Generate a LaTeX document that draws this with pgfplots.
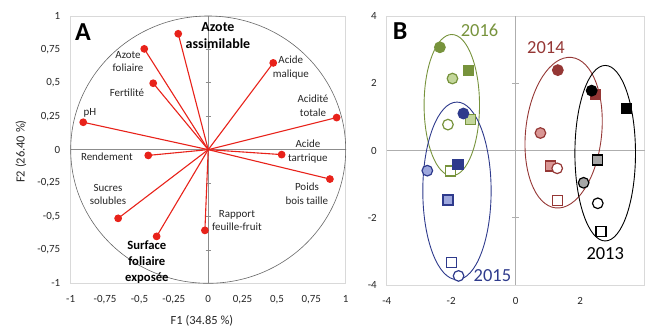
\documentclass[border=0pt]{standalone}
\usepackage{pgfplots}
\pgfplotsset{compat=1.18}
\usepackage{fontspec}
\setmainfont{Carlito}
\definecolor{vred}{HTML}{E8221A}
\definecolor{g16}{HTML}{77933C}
\definecolor{g16l}{HTML}{C3D69B}
\definecolor{b15}{HTML}{2E3A8C}
\definecolor{b15l}{HTML}{9DA7DD}
\definecolor{r14}{HTML}{953735}
\definecolor{r14l}{HTML}{D99694}
\definecolor{k13l}{HTML}{A6A6A6}
\definecolor{boxg}{HTML}{D9D9D9}
\definecolor{axg}{HTML}{8C8C8C}
\tikzset{lab/.style={font=\fontsize{11}{13.5}\selectfont, align=center, text=black!85}}
\pgfplotsset{
  vec/.style={color=vred, line width=1.1bp, mark=*, mark size=3.3bp, mark indices={2}, mark options={fill=vred, solid}},
  pf/.style={only marks, mark=*, mark size=5.3bp, mark options={draw=#1, fill=#1, line width=1.2bp}},
  ph/.style 2 args={only marks, mark=*, mark size=5.3bp, mark options={draw=#1, fill=#2, line width=1.2bp}},
  po/.style={only marks, mark=*, mark size=5.3bp, mark options={draw=#1, fill=white, line width=1.2bp}},
  qf/.style={only marks, mark=square*, mark size=5bp, mark options={draw=#1, fill=#1, line width=1.2bp}},
  qh/.style 2 args={only marks, mark=square*, mark size=5bp, mark options={draw=#1, fill=#2, line width=1.2bp}},
  qo/.style={only marks, mark=square*, mark size=5bp, mark options={draw=#1, fill=white, line width=1.2bp}},
}
\begin{document}
\begin{tikzpicture}[x=1bp,y=1bp]
\useasboundingbox (0,0) rectangle (645,327);
% ---------------- Panel A ----------------
\begin{axis}[
  at={(70.7bp,43.7bp)}, anchor=south west,
  width=275bp, height=267.3bp, scale only axis,
  xmin=-1, xmax=1, ymin=-1, ymax=1,
  axis line style={draw=boxg, line width=0.8bp},
  major tick length=0pt,
  xtick={-1,-0.75,-0.5,-0.25,0,0.25,0.5,0.75,1},
  xticklabels={{-1},{-0,75},{-0,5},{-0,25},{0},{0,25},{0,5},{0,75},{1}},
  ytick={-1,-0.75,-0.5,-0.25,0,0.25,0.5,0.75,1},
  yticklabels={{-1},{-0,75},{-0,5},{-0,25},{0},{0,25},{0,5},{0,75},{1}},
  tick label style={font=\fontsize{11}{13}\selectfont, text=black!85},
  xticklabel style={yshift=-8.5bp},
  yticklabel style={xshift=-7bp},
  clip=false,
]
\draw[axg, line width=0.7bp] (axis cs:-1,0) -- (axis cs:1,0);
\draw[axg, line width=0.7bp] (axis cs:0,-1) -- (axis cs:0,1);
\pgfplotsinvokeforeach{-0.75,-0.5,-0.25,0.25,0.5,0.75}{
  \draw[axg, line width=0.7bp] ([xshift=-2.5bp]axis cs:0,#1) -- ([xshift=2.5bp]axis cs:0,#1);
}
\draw[black!60, line width=0.6bp] (axis cs:0,0) circle [radius=1];
\addplot[vec] coordinates {(0,0) (-0.218,0.867)};
\addplot[vec] coordinates {(0,0) (-0.465,0.754)};
\addplot[vec] coordinates {(0,0) (-0.400,0.497)};
\addplot[vec] coordinates {(0,0) (-0.909,0.205)};
\addplot[vec] coordinates {(0,0) (-0.436,-0.043)};
\addplot[vec] coordinates {(0,0) (-0.655,-0.514)};
\addplot[vec] coordinates {(0,0) (-0.375,-0.649)};
\addplot[vec] coordinates {(0,0) (-0.024,-0.604)};
\addplot[vec] coordinates {(0,0) (0.885,-0.220)};
\addplot[vec] coordinates {(0,0) (0.534,-0.037)};
\addplot[vec] coordinates {(0,0) (0.934,0.240)};
\addplot[vec] coordinates {(0,0) (0.473,0.649)};
\node[font=\fontsize{14}{18}\selectfont\bfseries, align=center] at (axis cs:0.071,0.854) {Azote\\assimilable};
\node[lab] at (axis cs:-0.583,0.659) {Azote\\foliaire};
\node[lab] at (axis cs:-0.591,0.427) {Fertilité};
\node[lab] at (axis cs:-0.860,0.277) {pH};
\node[lab] at (axis cs:-0.737,-0.052) {Rendement};
\node[lab] at (axis cs:-0.729,-0.337) {Sucres\\solubles};
\node[font=\fontsize{12.7}{16}\selectfont\bfseries, align=center] at (axis cs:-0.446,-0.839) {Surface\\foliaire\\exposée};
\node[lab] at (axis cs:0.209,-0.532) {Rapport\\feuille-fruit};
\node[lab] at (axis cs:0.718,-0.330) {Poids\\bois taille};
\node[lab] at (axis cs:0.725,-0.015) {Acide\\tartrique};
\node[lab] at (axis cs:0.762,0.330) {Acidité\\totale};
\node[lab] at (axis cs:0.601,0.614) {Acide\\malique};
\node[font=\fontsize{26}{30}\selectfont\bfseries] at (axis cs:-0.91,0.876) {A};
\end{axis}
\node[font=\fontsize{12.5}{15}\selectfont, text=black!85] at (202,6) {F1 (34.85 \%)};
\node[font=\fontsize{12.5}{15}\selectfont, text=black!85, rotate=90] at (21,175.5) {F2 (26.40 \%)};
% ---------------- Panel B ----------------
\begin{axis}[
  at={(386.7bp,42bp)}, anchor=south west,
  width=257.8bp, height=269bp, scale only axis,
  xmin=-4, xmax=4, ymin=-4, ymax=4,
  axis line style={draw=boxg, line width=0.8bp},
  major tick length=0pt,
  xtick={-4,-2,0,2}, ytick={-4,-2,0,2,4},
  xticklabels={{-4},{-2},{0},{2}},
  yticklabels={{-4},{-2},{0},{2},{4}},
  tick label style={font=\fontsize{11}{13}\selectfont, text=black!85},
  xticklabel style={yshift=-8.5bp},
  yticklabel style={xshift=-6.5bp},
  clip=false,
]
\draw[boxg!80!black, line width=0.8bp] (axis cs:-4,0) -- (axis cs:4,0);
\draw[boxg!80!black, line width=0.8bp] (axis cs:0,-4) -- (axis cs:0,4);
\pgfplotsinvokeforeach{-2,2}{
  \draw[boxg!80!black, line width=0.8bp] ([xshift=-3.5bp]axis cs:0,#1) -- ([xshift=3.5bp]axis cs:0,#1);
}
% ellipses
\draw[g16, line width=0.9bp] (axis cs:-1.98,1.35) ellipse [x radius=0.86, y radius=2.10];
\draw[b15, line width=0.9bp] (axis cs:-1.82,-1.20) ellipse [x radius=1.06, y radius=2.64];
\draw[r14, line width=0.9bp, rotate around={-6:(axis cs:1.49,0.53)}] (axis cs:1.49,0.53) ellipse [x radius=1.18, y radius=2.25];
\draw[black, line width=0.9bp] (axis cs:2.78,-0.08) ellipse [x radius=0.94, y radius=2.61];
% 2016
\addplot[pf=g16] coordinates {(-2.35,3.07)};
\addplot[ph={g16}{g16l}] coordinates {(-1.96,2.14)};
\addplot[po=g16] coordinates {(-2.10,0.77)};
\addplot[qf=g16] coordinates {(-1.45,2.39)};
\addplot[qh={g16}{g16l}] coordinates {(-1.41,0.92)};
\addplot[qo=g16] coordinates {(-2.02,-0.61)};
% 2015
\addplot[pf=b15] coordinates {(-1.62,1.10)};
\addplot[ph={b15}{b15l}] coordinates {(-2.74,-0.60)};
\addplot[po=b15] coordinates {(-1.77,-3.73)};
\addplot[qf=b15] coordinates {(-1.79,-0.41)};
\addplot[qh={b15}{b15l}] coordinates {(-2.10,-1.47)};
\addplot[qo=b15] coordinates {(-1.98,-3.33)};
% 2014
\addplot[pf=r14] coordinates {(1.31,2.39)};
\addplot[ph={r14}{r14l}] coordinates {(0.77,0.52)};
\addplot[qf=r14] coordinates {(2.47,1.66)};
\addplot[qh={r14}{r14l}] coordinates {(1.08,-0.46)};
\addplot[po=r14] coordinates {(1.29,-0.53)};
\addplot[qo=r14] coordinates {(1.31,-1.49)};
% 2013
\addplot[pf=black] coordinates {(2.36,1.78)};
\addplot[ph={black}{k13l}] coordinates {(2.11,-0.96)};
\addplot[po=black] coordinates {(2.55,-1.57)};
\addplot[qf=black] coordinates {(3.44,1.24)};
\addplot[qh={black}{k13l}] coordinates {(2.54,-0.28)};
\addplot[qo=black] coordinates {(2.65,-2.42)};
\node[font=\fontsize{26}{30}\selectfont\bfseries] at (axis cs:-3.58,3.54) {B};
\node[font=\fontsize{18.5}{22}\selectfont, text=g16] at (axis cs:-1.12,3.57) {2016};
\node[font=\fontsize{18.5}{22}\selectfont, text=r14] at (axis cs:0.94,3.07) {2014};
\node[font=\fontsize{18.5}{22}\selectfont, text=b15] at (axis cs:-0.72,-3.71) {2015};
\node[font=\fontsize{18.5}{22}\selectfont, text=black] at (axis cs:2.78,-3.08) {2013};
\end{axis}
\end{tikzpicture}
\end{document}
